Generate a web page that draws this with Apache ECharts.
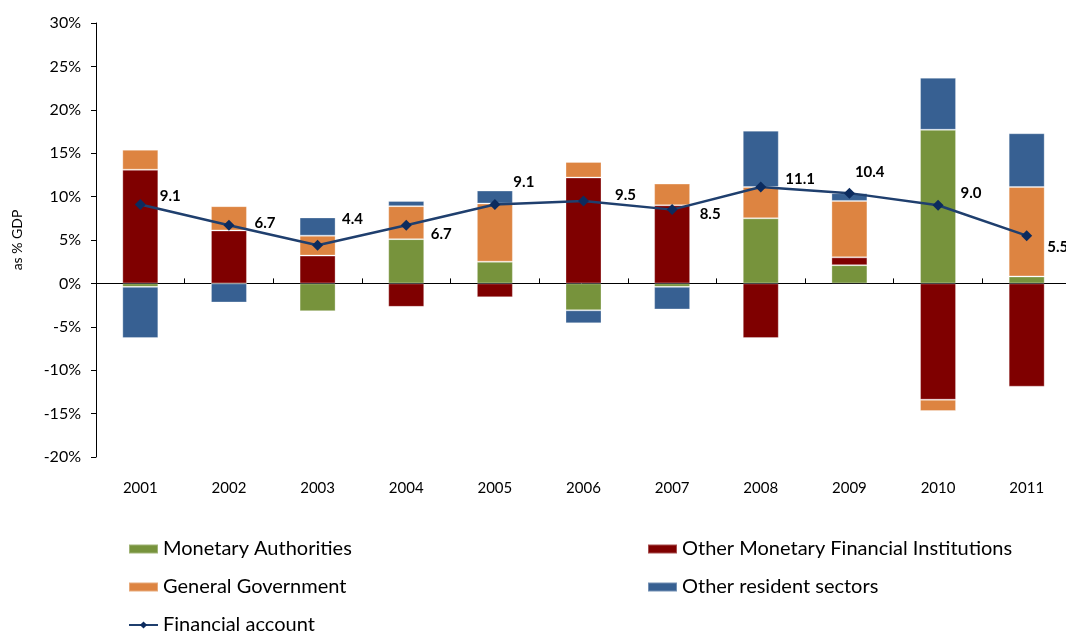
<!DOCTYPE html>
<html>
<head>
<meta charset="utf-8">
<script src="https://cdn.jsdelivr.net/npm/echarts@6/dist/echarts.min.js"></script>
<style>html,body{margin:0;padding:0;background:#fff;}#c{width:1066px;height:633px;}</style>
</head>
<body>
<div id="c"></div>
<script>
const years = ['2001','2002','2003','2004','2005','2006','2007','2008','2009','2010','2011'];
const monetaryAuthorities = [-0.4, 0, -3.2, 5.1, 2.5, -3.1, -0.4, 7.5, 2.1, 17.7, 0.8];
const otherMFI = [13.1, 6.1, 3.2, -2.7, -1.6, 12.2, 9.0, -6.3, 0.9, -13.4, -11.9];
const generalGovernment = [2.3, 2.8, 2.3, 3.8, 6.7, 1.8, 2.5, 3.6, 6.5, -1.3, 10.3];
const otherResident = [-5.9, -2.2, 2.1, 0.6, 1.5, -1.5, -2.6, 6.5, 0.9, 6.0, 6.2];
const financialAccount = [9.1, 6.7, 4.4, 6.7, 9.1, 9.5, 8.5, 11.1, 10.4, 9.0, 5.5];
const yTicks = [-20, -15, -10, -5, 0, 5, 10, 15, 20, 25, 30];

// label nudges for the line's value labels (presentation only)
const labelNudges = [[9,-8],[15,-2],[14,-26],[14,9],[8,-22],[21,-6],[17,5],[14,-8],[-5,-21],[12,-12],[10,11]];

const FONT = 'Lato';
const chart = echarts.init(document.getElementById('c'), null, {renderer: 'canvas'});

const barBase = {
  type: 'bar', stack: 'total', barWidth: 36, xAxisIndex: 0,
  itemStyle: {borderColor: 'rgba(255,255,255,0.3)', borderWidth: 1}
};

function legendItem(name, left, centerY, icon) {
  const d = {name: name};
  if (icon) d.icon = icon;
  return {
    left: left, top: centerY - 11, padding: 0, itemWidth: 29, itemHeight: 9, itemGap: 0,
    textStyle: {fontFamily: FONT, fontSize: 20, color: '#000', lineHeight: 22},
    data: [d]
  };
}

const option = {
  animation: false,
  textStyle: {fontFamily: FONT},
  grid: {left: 96, top: 23, right: -5, bottom: 176, containLabel: false, outerBoundsMode: 'none'},
  xAxis: [
    {
      type: 'category', data: years, position: 'bottom',
      axisLine: {show: false, onZero: false}, axisTick: {show: false},
      axisLabel: {fontFamily: FONT, fontSize: 15, color: '#000', margin: 24},
      splitLine: {show: false}
    },
    {
      type: 'category', data: years.flatMap(y => [y + 'a', y + 'b']),
      axisLine: {show: true, onZero: true, lineStyle: {color: '#000', width: 1}},
      axisTick: {show: true, length: 5, lineStyle: {color: '#000'}},
      axisLabel: {show: false}, splitLine: {show: false}
    }
  ],
  yAxis: {
    type: 'value', min: yTicks[0], max: yTicks[yTicks.length - 1], interval: 5,
    name: 'as % GDP', nameLocation: 'middle', nameRotate: 90, nameGap: 72,
    nameTextStyle: {fontFamily: FONT, fontSize: 14, color: '#000'},
    axisLine: {show: true, lineStyle: {color: '#000'}},
    axisTick: {show: true, length: 5, lineStyle: {color: '#000'}},
    axisLabel: {fontFamily: FONT, fontSize: 16, color: '#000', margin: 15, formatter: v => v + '%'},
    splitLine: {show: false}
  },
  legend: [
    legendItem('Monetary Authorities', 128, 549, 'rect'),
    legendItem('General Government', 128, 587, 'rect'),
    legendItem('Financial account', 128, 625),
    legendItem('Other Monetary Financial Institutions', 647, 549, 'rect'),
    legendItem('Other resident sectors', 647, 587, 'rect')
  ],
  series: [
    Object.assign({}, barBase, {name: 'Monetary Authorities', data: monetaryAuthorities, color: '#77933C'}),
    Object.assign({}, barBase, {name: 'Other Monetary Financial Institutions', data: otherMFI, color: '#7F0000'}),
    Object.assign({}, barBase, {name: 'General Government', data: generalGovernment, color: '#DD8441'}),
    Object.assign({}, barBase, {name: 'Other resident sectors', data: otherResident, color: '#376092'}),
    {
      name: 'Financial account', type: 'line', xAxisIndex: 0, z: 5,
      symbol: 'diamond', symbolSize: 11, color: '#0C2B5E',
      lineStyle: {color: '#1F3F6E', width: 2.5},
      itemStyle: {color: '#0C2B5E'},
      label: {show: true, position: 'right', distance: 5, fontFamily: FONT, fontSize: 15, fontWeight: 'bold', color: '#000',
              formatter: p => p.value.toFixed(1)},
      data: financialAccount.map((v, i) => ({value: v, label: {offset: labelNudges[i]}}))
    }
  ]
};
chart.setOption(option);
</script>
</body>
</html>
